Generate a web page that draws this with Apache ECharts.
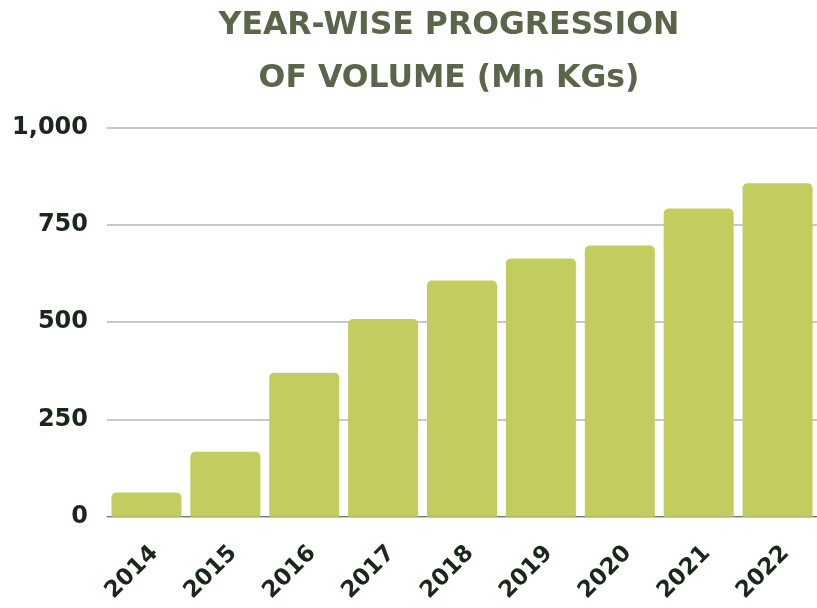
<!DOCTYPE html>
<html><head><meta charset="utf-8">
<script src="https://cdn.jsdelivr.net/npm/echarts@6/dist/echarts.min.js"></script>
<style>html,body{margin:0;padding:0;background:#fff}#c{width:817px;height:608px}</style>
</head><body><div id="c"></div>
<script>
const categories = ['2014','2015','2016','2017','2018','2019','2020','2021','2022'];
const volumes = [62, 167, 370, 508, 607, 664, 697, 792, 857];
const titleLines = ['YEAR-WISE PROGRESSION', 'OF VOLUME (Mn KGs)'];

const FONT = 'DejaVu Sans';
const chart = echarts.init(document.getElementById('c'), null, {renderer:'canvas'});
chart.setOption({
  animation: false,
  title: {
    text: titleLines.join('\n'),
    left: 444, top: -6, textAlign: 'center',
    textStyle: {fontFamily: FONT, fontWeight: 'bold', fontSize: 31.5, color: '#5b6549', lineHeight: 53}
  },
  grid: {left: 107, right: -3, top: 127.7, bottom: 608 - 516.7},
  xAxis: {
    type: 'category', data: categories,
    axisTick: {show: false},
    axisLine: {lineStyle: {color: '#777', width: 1}},
    axisLabel: {rotate: 45, margin: 25, verticalAlign: 'top', fontFamily: FONT, fontWeight: 'bold', fontSize: 23, color: '#1c271c', interval: 0}
  },
  yAxis: {
    type: 'value', min: 0, max: 1000, interval: 250,
    axisLine: {show: false}, axisTick: {show: false},
    splitLine: {lineStyle: {color: '#c8c8c8', width: 2}},
    axisLabel: {margin: 19, fontFamily: FONT, fontWeight: 'bold', fontSize: 24, color: '#1c271c',
      formatter: v => v.toLocaleString('en-US')}
  },
  series: [{
    type: 'bar', data: volumes, barWidth: 70,
    itemStyle: {color: '#c3cc5f', borderRadius: [5,5,0,0]}
  }]
});
</script></body></html>
